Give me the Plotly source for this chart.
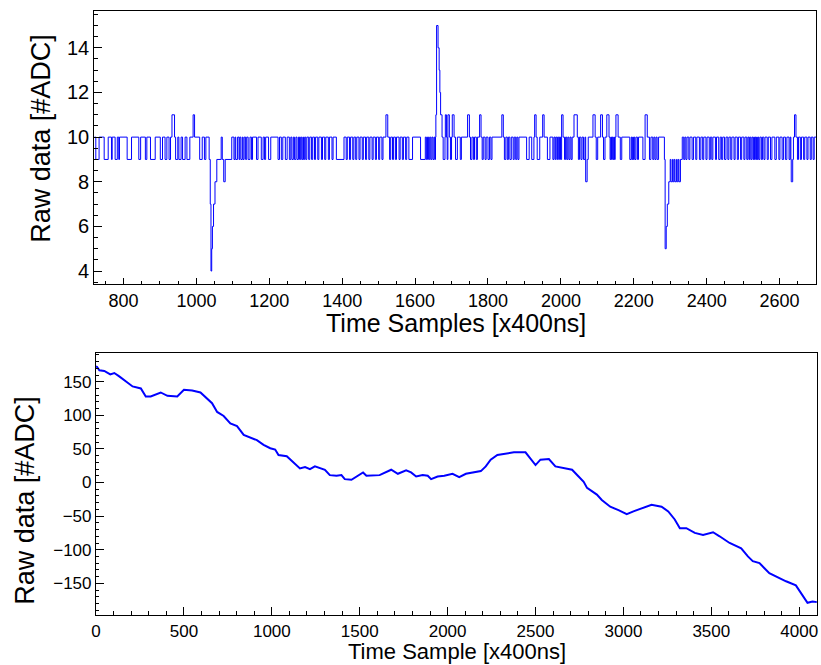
import plotly.graph_objects as go

# ---------------- data ----------------
# Top panel: raw ADC trace as (start sample, value) runs of a step histogram
top_runs = [
    (720,10),(724,9),(733,10),(747,9),(758,10),(767,9),(769,10),(777,9),(783,10),(787,9),
    (789,10),(810,9),(822,10),(842,9),(847,10),(860,9),(864,10),(874,9),(887,10),(901,9),
    (907,10),(914,9),(919,10),(925,9),(929,10),(933,11),(940,10),(943,9),(949,10),(952,9),
    (958,10),(962,9),(969,10),(974,9),(982,10),(991,11),(995,10),(1009,9),(1016,10),(1022,9),
    (1026,10),(1035,9),(1038,7),(1040,4),(1042,5),(1044,6),(1047,7),(1051,8),(1056,9),(1068,10),
    (1071,9),(1075,8),(1079,9),
    (1097,10),(1103,9),(1106,10),(1108,9),(1113,10),(1117,9),(1119,10),(1122,9),(1126,10),(1128,9),
    (1131,10),(1135,9),(1138,10),(1142,9),(1147,10),(1151,9),(1154,10),(1165,9),(1169,10),(1178,9),
    (1183,10),(1187,9),(1190,10),(1198,9),(1204,10),(1224,9),(1228,10),(1233,9),(1237,10),(1244,9),
    (1249,10),(1255,9),(1259,10),(1262,9),(1266,10),(1269,9),(1273,10),(1276,9),(1280,10),(1283,9),
    (1286,10),(1289,9),(1292,10),(1294,9),
    (1297,10),(1300,9),(1303,10),(1308,9),(1311,10),(1316,9),(1319,10),(1324,9),(1327,10),(1333,9),
    (1336,10),(1343,9),(1346,10),(1352,9),(1355,10),(1362,9),(1365,10),(1372,9),(1375,10),(1384,9),
    (1405,10),(1411,9),(1414,10),(1420,9),(1423,10),(1429,9),(1432,10),(1437,9),(1440,10),(1446,9),
    (1449,10),(1455,9),(1458,10),(1464,9),(1467,10),(1473,9),(1476,10),(1482,9),(1485,10),(1491,9),
    (1494,10),(1500,9),(1503,10),(1509,9),(1512,10),(1520,11),(1525,10),(1530,9),(1533,10),(1538,9),
    (1541,10),(1546,9),(1549,10),(1556,9),(1559,10),(1565,9),(1568,10),(1574,9),(1577,10),(1583,9),
    (1593,10),(1615,9),(1628,10),(1631,9),(1634,10),(1637,9),(1640,10),(1643,9),(1646,10),(1649,9),
    (1652,10),(1654,9),(1656,10),(1657,11),(1659,15),(1663,14),(1666,13),(1668,12),(1670,11),(1674,10),
    (1677,9),(1682,10),(1683,11),(1686,10),(1688,9),(1690,11),(1694,10),(1697,9),(1700,10),(1702,11),
    (1707,10),(1711,9),(1716,10),(1724,9),(1727,10),(1744,11),(1749,10),(1752,9),(1756,10),(1760,9),
    (1763,10),(1768,9),(1771,10),(1777,11),(1781,10),(1784,9),(1787,10),(1792,9),(1795,10),(1800,9),
    (1804,10),(1808,9),(1811,10),(1838,11),(1842,10),(1845,9),(1849,10),(1853,9),(1856,10),(1860,9),
    (1864,10),(1869,9),(1872,10),(1876,9),
    (1879,10),(1882,9),(1885,10),(1906,9),(1913,10),(1920,9),(1926,10),(1928,11),(1932,10),(1935,9),
    (1942,10),(1950,11),(1954,10),(1963,9),(1970,10),(1978,9),(1981,10),(1984,9),(1986,10),(1989,9),
    (1991,10),(1994,9),(1996,10),(1999,9),(2002,11),(2006,10),(2010,9),(2013,10),(2016,9),(2019,10),
    (2022,9),(2025,10),(2028,9),(2031,10),(2036,11),(2045,10),(2048,9),(2051,10),(2055,9),(2058,10),
    (2062,9),(2066,10),(2068,8),(2072,9),(2075,10),(2088,11),(2094,10),(2097,9),(2101,10),(2109,11),
    (2114,10),(2117,9),(2121,10),(2126,11),(2132,10),(2135,9),(2137,10),(2139,9),(2141,10),(2143,9),
    (2145,10),(2147,9),(2149,10),(2151,11),(2157,10),(2163,9),(2167,10),
    (2189,9),(2193,10),(2195,9),(2197,10),(2199,9),(2201,10),(2203,9),(2206,10),(2210,9),(2213,10),
    (2225,9),(2231,11),(2237,10),(2243,9),(2247,10),(2252,9),(2255,10),(2258,9),(2261,10),(2264,9),
    (2268,10),(2284,9),(2286,5),(2289,6),(2292,7),(2296,8),(2300,9),(2302,8),(2306,9),(2308,8),
    (2311,9),(2313,8),(2317,9),(2319,8),(2322,9),(2324,8),(2328,9),(2333,10),(2337,9),(2340,10),
    (2343,9),(2346,10),(2351,9),(2354,10),(2360,9),(2364,10),(2370,9),(2373,10),(2380,9),(2384,10),
    (2389,9),(2392,10),(2398,9),(2401,10),(2407,9),(2410,10),(2414,9),(2417,10),(2424,9),(2427,10),
    (2433,9),(2437,10),(2441,9),(2444,10),(2449,9),(2453,10),(2458,9),
    (2461,10),(2466,9),(2469,10),(2475,9),(2478,10),(2484,9),(2487,10),(2493,9),(2496,10),(2502,9),
    (2505,10),(2510,9),(2513,10),(2516,9),(2518,10),(2521,9),(2524,10),(2527,9),(2529,10),(2531,9),
    (2533,10),(2535,9),(2537,10),(2539,9),(2541,10),(2543,9),(2546,10),(2550,9),(2553,10),(2557,9),
    (2560,10),(2566,9),(2569,10),(2575,9),(2579,10),(2587,9),(2591,10),(2598,9),(2601,10),(2607,9),
    (2611,10),(2616,9),(2620,10),(2626,9),(2629,10),(2631,9),(2632,8),(2636,9),(2638,10),(2641,11),
    (2645,10),(2649,9),(2652,10),(2657,9),(2660,10),(2666,9),(2669,10),(2675,9),(2678,10),(2684,9),
    (2687,10),(2692,9),(2695,10),(2700,10),
]
top_x = [r[0] for r in top_runs]
top_y = [r[1] for r in top_runs]

# Bottom panel: baseline-wandering waveform (sample, ADC)
bot_sample = [0,6,19,47,81,104,132,170,208,255,283,311,368,406,462,500,547,594,632,660,689,726,764,
              802,840,877,915,953,991,1019,1038,1085,1123,1160,1189,1217,1245,1302,1330,1368,1396,
              1415,1453,1491,1519,1538,1613,1679,1717,1764,1792,1821,1858,1887,1906,1943,1981,2028,
              2066,2104,2142,2189,2217,2245,2283,2330,2377,2443,2472,2500,2528,2576,2613,2660,2708,
              2745,2774,2793,2849,2877,2925,2972,3019,3057,3113,3160,3217,3255,3292,3321,3358,3406,
              3453,3510,3547,3604,3670,3708,3736,3774,3830,3868,3925,3981,4009,4047,4076,4100]
bot_value = [173,172,167,166,161,163,158,151,143,140,128,128,134,129,128,138,137,134,125,118,105,99,88,
             84,71,67,63,56,51,49,41,39,30,21,23,20,24,19,11,10,11,
             5,4,11,15,10,11,19,13,18,15,9,11,10,5,9,10,13,
             8,13,15,17,24,34,41,43,45,45,36,26,34,35,24,21,19,
             9,1,-8,-18,-26,-36,-41,-47,-43,-38,-33,-36,-43,-55,-68,-68,-75,
             -78,-74,-80,-90,-98,-110,-117,-120,-135,-140,-147,-153,-164,-179,-177,-178]

top_xticks = [800,1000,1200,1400,1600,1800,2000,2200,2400,2600]
top_yticks = [4,6,8,10,12,14]
bot_xticks = [0,500,1000,1500,2000,2500,3000,3500,4000]
bot_yticks = [-150,-100,-50,0,50,100,150]

# ---------------- figure ----------------
W, H = 821, 665
BLUE = "#0000ff"
FONT = "Liberation Sans, Arial, Helvetica, sans-serif"

fig = go.Figure()
fig.add_trace(go.Scatter(x=top_x, y=top_y, mode="lines", line=dict(color=BLUE, width=1, shape="hv"),
                         xaxis="x", yaxis="y", showlegend=False, hoverinfo="skip"))
fig.add_trace(go.Scatter(x=bot_sample, y=bot_value, mode="lines", line=dict(color=BLUE, width=2),
                         xaxis="x2", yaxis="y2", showlegend=False, hoverinfo="skip"))

def px_x(v):
    return v / W

def px_y(v):
    return 1 - v / H

axis_common = dict(showgrid=False, zeroline=False, showline=True, linecolor="black", linewidth=1.2,
                   mirror=True, ticks="inside", tickcolor="black", tickwidth=1, color="black")

fig.update_layout(
    width=W, height=H, margin=dict(l=0, r=0, t=0, b=0),
    paper_bgcolor="white", plot_bgcolor="white",
    xaxis=dict(domain=[px_x(90), px_x(817)], range=[720, 2700], anchor="y",
               tickvals=top_xticks, ticklen=6,
               minor=dict(dtick=50, tick0=0, ticklen=3, ticks="inside", tickcolor="black"),
               tickfont=dict(family=FONT, size=18), **axis_common),
    yaxis=dict(domain=[px_y(284), px_y(11)], range=[3.42, 15.65], anchor="x",
               tickvals=top_yticks, ticklen=8,
               minor=dict(dtick=0.5, tick0=0, ticklen=4, ticks="inside", tickcolor="black"),
               tickfont=dict(family=FONT, size=20), **axis_common),
    xaxis2=dict(domain=[px_x(91.7), px_x(818.3)], range=[0, 4103], anchor="y2",
                tickvals=bot_xticks, ticklen=8,
                minor=dict(dtick=100, tick0=0, ticklen=4, ticks="inside", tickcolor="black"),
                tickfont=dict(family=FONT, size=17), **axis_common),
    yaxis2=dict(domain=[px_y(615.3), px_y(353.3)], range=[-197.6, 192.3], anchor="x2",
                tickvals=bot_yticks, ticktext=[str(v).replace("-", "\u2212") for v in bot_yticks],
                ticklen=8,
                minor=dict(dtick=10, tick0=0, ticklen=3, ticks="inside", tickcolor="black"),
                tickfont=dict(family=FONT, size=17), **axis_common),
)

annotations = [
    dict(text="Time Samples [x400ns]", x=px_x(454), y=px_y(323), xref="paper", yref="paper",
         showarrow=False, font=dict(family=FONT, size=25, color="black"), xanchor="center", yanchor="middle"),
    dict(text="Raw data [#ADC]", x=px_x(36), y=px_y(138), xref="paper", yref="paper", textangle=-90,
         showarrow=False, font=dict(family=FONT, size=27, color="black"), xanchor="center", yanchor="middle"),
    dict(text="Time Sample [x400ns]", x=px_x(455), y=px_y(651.5), xref="paper", yref="paper",
         showarrow=False, font=dict(family=FONT, size=22, color="black"), xanchor="center", yanchor="middle"),
    dict(text="Raw data [#ADC]", x=px_x(20), y=px_y(500), xref="paper", yref="paper", textangle=-90,
         showarrow=False, font=dict(family=FONT, size=27, color="black"), xanchor="center", yanchor="middle"),
]
fig.update_layout(annotations=annotations)

fig.write_html("out.html")
